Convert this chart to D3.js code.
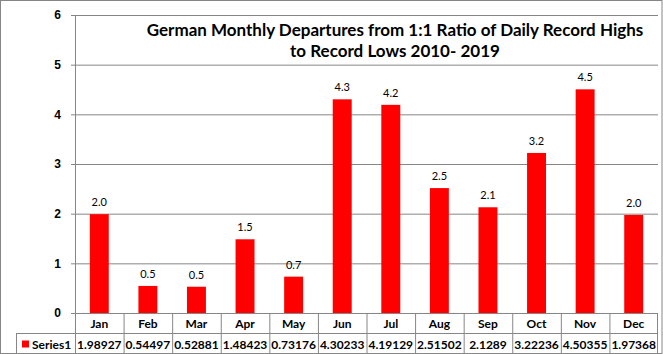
<!DOCTYPE html>
<html>
<head>
<meta charset="utf-8">
<script src="https://cdn.jsdelivr.net/npm/d3@7"></script>
<style>
  body { margin: 0; background: #fff; }
  svg { display: block; font-family: Lato, "Open Sans", sans-serif; }
</style>
</head>
<body>
<svg id="chart"></svg>
<script>
// データ
const months = ['Jan','Feb','Mar','Apr','May','Jun','Jul','Aug','Sep','Oct','Nov','Dec'];
const series1 = [1.98927, 0.54497, 0.52881, 1.48423, 0.73176, 4.30233, 4.19129, 2.51502, 2.1289, 3.22236, 4.50355, 1.97368];
const seriesName = 'Series1';
const yTicks = [0, 1, 2, 3, 4, 5, 6];
const titleLines = ['German Monthly Departures from 1:1 Ratio of Daily Record Highs', 'to Record Lows 2010- 2019'];

const W = 663, H = 354;
const margin = {top: 15, right: 5, bottom: 41, left: 75};
const inner_w = W - margin.left - margin.right;
const inner_h = H - margin.top - margin.bottom;
const grey = '#868686';

const svg = d3.select('#chart').attr('width', W).attr('height', H);

// 外枠
svg.append('rect')
  .attr('x', 0.5).attr('y', 0.5)
  .attr('width', W - 1.5).attr('height', H - 1)
  .attr('fill', 'none').attr('stroke', grey);

const chart = svg.append('g')
  .attr('transform', `translate(${margin.left}, ${margin.top})`);

const xscale = d3.scaleBand().domain(months).range([0, inner_w]).paddingInner(0.61).paddingOuter(0.305);
const cell = d3.scaleBand().domain(months).range([0, inner_w]);
const yscale = d3.scaleLinear().domain([0, 6]).range([inner_h, 0]);

// グリッド + y軸
const yaxis = d3.axisLeft(yscale).tickValues(yTicks).tickSize(-inner_w).tickPadding(14).tickFormat(d3.format('d'));
const yg = chart.append('g').call(yaxis);
yg.select('.domain').remove();
yg.selectAll('.tick line').attr('stroke', grey).attr('x1', -4);
yg.selectAll('.tick text')
  .attr('fill', '#000').style('font-size', '12px').style('font-weight', 'bold');
chart.append('line')
  .attr('x1', 0.5).attr('x2', 0.5).attr('y1', 0).attr('y2', inner_h)
  .attr('stroke', grey);

// バー
chart.selectAll('.bar')
  .data(series1)
  .join('rect')
  .attr('class', 'bar')
  .attr('x', (d, i) => xscale(months[i]))
  .attr('width', xscale.bandwidth())
  .attr('y', d => yscale(d))
  .attr('height', d => inner_h - yscale(d))
  .attr('fill', '#ff0000');

// データラベル
chart.selectAll('.lbl')
  .data(series1)
  .join('text')
  .attr('class', 'lbl')
  .attr('x', (d, i) => xscale(months[i]) + xscale.bandwidth() / 2)
  .attr('y', d => yscale(d) - 8)
  .attr('text-anchor', 'middle')
  .style('font-size', '11px')
  .attr('fill', '#000')
  .text(d => d.toFixed(1));

// タイトル
svg.append('g').selectAll('text')
  .data(titleLines)
  .join('text')
  .attr('x', 395)
  .attr('y', (d, i) => 36 + i * 21)
  .attr('text-anchor', 'middle')
  .style('font-size', '17px')
  .style('font-weight', 'bold')
  .attr('fill', '#000')
  .text(d => d);

// データテーブル
const table = chart.append('g').attr('transform', `translate(0, ${inner_h})`);
const row_h = 20.5;
const left_x = 16 - margin.left;

table.append('g').selectAll('line')
  .data(d3.range(13))
  .join('line')
  .attr('x1', i => i < 12 ? cell(months[i]) + 0.5 : inner_w - 0.5)
  .attr('x2', i => i < 12 ? cell(months[i]) + 0.5 : inner_w - 0.5)
  .attr('y1', 0).attr('y2', row_h * 2)
  .attr('stroke', grey);
table.append('line').attr('x1', 0).attr('x2', inner_w).attr('y1', row_h).attr('y2', row_h).attr('stroke', grey);
table.append('line').attr('x1', left_x).attr('x2', inner_w).attr('y1', row_h * 2 - 0.5).attr('y2', row_h * 2 - 0.5).attr('stroke', grey);
table.append('line').attr('x1', left_x).attr('x2', 0).attr('y1', row_h).attr('y2', row_h).attr('stroke', grey);
table.append('line').attr('x1', left_x + 0.5).attr('x2', left_x + 0.5).attr('y1', row_h).attr('y2', row_h * 2).attr('stroke', grey);

table.selectAll('.mlabel')
  .data(months)
  .join('text')
  .attr('class', 'mlabel')
  .attr('x', d => cell(d) + cell.bandwidth() / 2)
  .attr('y', 15)
  .attr('text-anchor', 'middle')
  .style('font-size', '12px').style('font-weight', 'bold')
  .text(d => d);

table.selectAll('.val')
  .data(series1)
  .join('text')
  .attr('class', 'val')
  .attr('x', (d, i) => cell(months[i]) + cell.bandwidth() / 2)
  .attr('y', row_h + 15)
  .attr('text-anchor', 'middle')
  .style('font-size', '12px').style('font-weight', 'bold')
  .text(d => d);

// 凡例キー
table.append('rect')
  .attr('x', left_x + 6).attr('y', row_h + 7)
  .attr('width', 7).attr('height', 7)
  .attr('fill', '#ff0000');
table.append('text')
  .attr('x', left_x + 16).attr('y', row_h + 15)
  .style('font-size', '12px').style('font-weight', 'bold')
  .text(seriesName);
</script>
</body>
</html>
